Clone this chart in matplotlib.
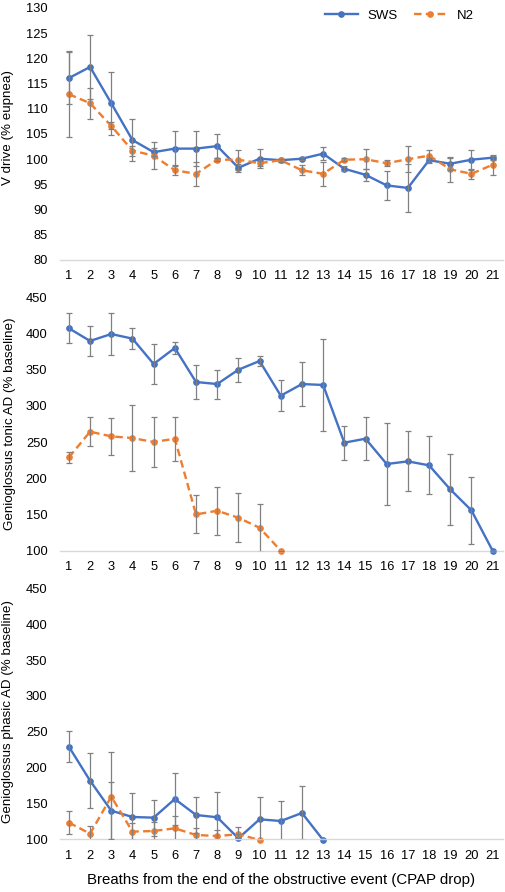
import matplotlib
matplotlib.use("Agg")
import matplotlib.pyplot as plt
import numpy as np

plt.rcParams['font.family'] = ['Liberation Sans', 'DejaVu Sans']

breaths = list(range(1, 22))
x_ticks = [str(i) for i in breaths]

# Panel 1: V drive (% eupnea)
vdrive_sws = [116.1, 118.3, 111.1, 103.8, 101.4, 102.1, 102.1, 102.6, 98.3, 100.1, 99.8,
              100.1, 101.1, 98.1, 96.9, 94.8, 94.3, 99.8, 99.1, 99.9, 100.3]
vdrive_sws_err = [5.2, 6.3, 6.3, 4.1, 0.8, 3.5, 3.5, 2.4, 0.8, 1.9, 0.3,
                  0.3, 1.3, 0.5, 1.2, 2.9, 4.8, 0.5, 1.2, 2.0, 0.4]
vdrive_n2 = [112.9, 111.1, 106.6, 101.7, 100.7, 97.8, 97.1, 99.9, 99.9, 99.2, 99.8,
             97.8, 97.1, 99.9, 100.0, 99.2, 100.0, 100.7, 98.0, 97.1, 98.9]
vdrive_n2_err = [8.5, 3.1, 0.7, 1.0, 2.7, 1.0, 2.35, 0.3, 2.0, 0.5, 0.3,
                 1.0, 2.35, 0.3, 2.0, 0.6, 2.6, 1.1, 2.5, 1.0, 2.0]

# Panel 2: Genioglossus tonic AD (% baseline)
tonic_sws = [407.2, 389.7, 399.3, 392.9, 357.9, 380.0, 333.0, 330.2, 350.0, 362.0, 314.1,
             330.2, 328.9, 249.2, 254.7, 219.7, 223.4, 217.9, 184.7, 155.7, 100.0]
tonic_sws_err = [21, 21, 29, 14.3, 28, 8.3, 23.5, 20, 16.8, 6.7, 21,
                 30.2, 64, 23.7, 29.5, 56, 41.5, 40, 49.5, 46, 0]
tonic_n2 = [228.9, 264.4, 257.9, 255.6, 250.1, 254.7, 150.1, 155.2, 145.5, 131.7, 100.0]
tonic_n2_err = [7.8, 20.3, 25.3, 45.4, 34.3, 30.4, 26.2, 32.9, 33.6, 33.2, 0]

# Panel 3: Genioglossus phasic AD (% baseline)
phasic_sws = [229.1, 181.7, 139.9, 131.1, 130.2, 156.2, 133.9, 130.7, 101.4, 127.9, 125.5,
              136.7, 99.0]
phasic_sws_err = [21.8, 38.3, 40.0, 33.0, 25.0, 36.7, 25.0, 34.8, 6.0, 30.6, 27.4,
                  38.0, 0]
phasic_n2 = [123.2, 107.9, 159.5, 110.7, 111.6, 115.3, 106.0, 104.6, 107.0, 99.0]
phasic_n2_err = [15.6, 11.0, 62.0, 12.0, 12.0, 17.7, 10.0, 8.0, 9.7, 0]

blue = '#4472C4'
orange = '#ED7D31'
err_col = '#808080'

fig = plt.figure(figsize=(5.05, 8.92), dpi=100)
L, R = 60 / 505, 503 / 505
axes_specs = [
    (1 - 260 / 892, 1 - 8 / 892),
    (1 - 550.7 / 892, 1 - 297.3 / 892),
    (1 - 839.3 / 892, 1 - 588.3 / 892),
]
axs = [fig.add_axes([L, b, R - L, t - b]) for b, t in axes_specs]

panels = [
    (vdrive_sws, vdrive_sws_err, vdrive_n2, vdrive_n2_err, (80, 130), 5, 'V drive (% eupnea)'),
    (tonic_sws, tonic_sws_err, tonic_n2, tonic_n2_err, (100, 450), 50, 'Genioglossus tonic AD (% baseline)'),
    (phasic_sws, phasic_sws_err, phasic_n2, phasic_n2_err, (100, 450), 50, 'Genioglossus phasic AD (% baseline)'),
]
label_coords = [(-0.104, 0.526), (-0.099, 0.5), (-0.104, 0.508)]

for ax, (s, se, n, ne, ylim, step, ylab), lc in zip(axs, panels, label_coords):
    xs = breaths[:len(s)]
    xn = breaths[:len(n)]
    ax.errorbar(xs, s, yerr=se, fmt='none', ecolor=err_col, elinewidth=0.9, capsize=2,
                capthick=0.9, zorder=3)
    ax.errorbar(xn, n, yerr=ne, fmt='none', ecolor=err_col, elinewidth=0.9, capsize=2,
                capthick=0.9, zorder=3)
    ax.plot(xs, s, color=blue, lw=1.7, marker='o', ms=3.8, label='SWS', zorder=2,
            clip_on=False)
    ax.plot(xn, n, color=orange, lw=1.7, ls=(0, (3.2, 1.8)), marker='o', ms=3.8,
            label='N2', zorder=2.5, clip_on=False)
    ax.set_xlim(0.58, 21.49)
    ax.set_ylim(*ylim)
    ax.set_yticks(np.arange(ylim[0], ylim[1] + 0.1, step))
    ax.set_xticks(breaths)
    ax.set_xticklabels(x_ticks)
    for sp in ['left', 'right', 'top']:
        ax.spines[sp].set_visible(False)
    ax.spines['bottom'].set_color('#d9d9d9')
    ax.spines['bottom'].set_linewidth(1.0)
    ax.tick_params(axis='both', length=0, labelsize=9.3, colors='#000000')
    ax.tick_params(axis='y', pad=9)
    ax.tick_params(axis='x', pad=7.5)
    ax.set_ylabel(ylab, fontsize=9.6)
    ax.yaxis.set_label_coords(*lc)
    ax.patch.set_alpha(0)

axs[2].set_xlabel('Breaths from the end of the obstructive event (CPAP drop)', fontsize=10.8,
                  labelpad=8)

h, l = axs[0].get_legend_handles_labels()
fig.legend(h, l, loc='center', bbox_to_anchor=(399 / 505, 1 - 16 / 892), ncol=2,
           frameon=False, fontsize=9.5, handlelength=2.5, handletextpad=0.75,
           columnspacing=1.2)

fig.savefig('out.png', dpi=100)
